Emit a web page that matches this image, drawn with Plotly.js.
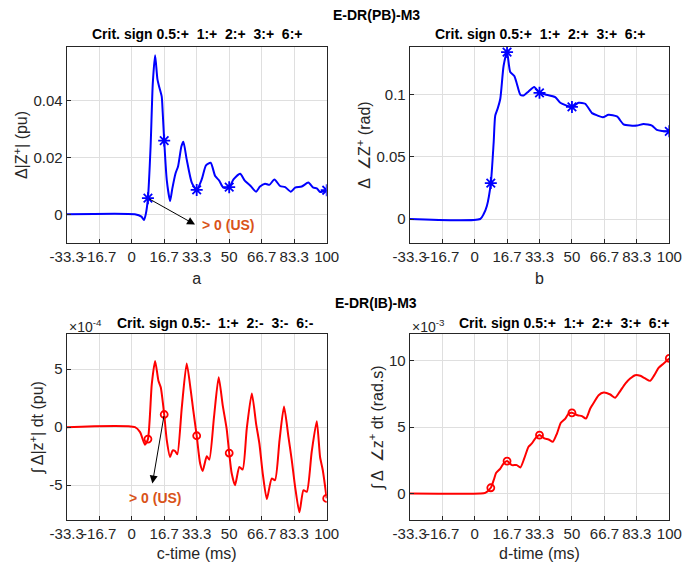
<!DOCTYPE html>
<html>
<head>
<meta charset="utf-8">
<script src="https://cdn.plot.ly/plotly-3.0.1.min.js"></script>
<style>html,body{margin:0;padding:0;background:#fff;}#chart{width:697px;height:562px;}</style>
</head>
<body>
<div id="chart"></div>
<script>
// ---- x tick labels (time, ms) ----
const xTickVals = [-33.33, -16.67, 0, 16.67, 33.33, 50, 66.67, 83.33, 100];
const xTickText = ["-33.3", "-16.7", "0", "16.7", "33.3", "50", "66.7", "83.3", "100"];

// ---- panel a: Δ|Z+| (pu) ----
const xA = [-33.33, 1.6, 5.0, 6.3, 7.2, 8.33, 9.7, 10.8, 12.0, 13.2, 14.2, 15.4, 15.9, 16.67, 18.0, 19.7, 20.8, 22.5, 23.8, 25.5, 26.5, 28.2, 30.8, 33.33, 35.9, 38.1, 40.5, 42.8, 44.8, 47.0, 50, 52.2, 55.6, 58.1, 61.0, 63.8, 65.8, 68.4, 70.6, 73.2, 76.1, 78.7, 81.6, 83.8, 87.2, 90.6, 93.2, 94.9, 96.6, 100];
const yA = [0, 0, -0.0008, -0.002, 0.0, 0.0057, 0.024, 0.046, 0.0561, 0.0476, 0.0447, 0.0415, 0.036, 0.026, 0.012, 0.0047, 0.009, 0.0145, 0.017, 0.024, 0.0256, 0.0194, 0.0112, 0.0086, 0.0123, 0.0173, 0.0182, 0.0135, 0.012, 0.0094, 0.0096, 0.0123, 0.0143, 0.0118, 0.010, 0.008, 0.0098, 0.0108, 0.0104, 0.0123, 0.010, 0.0096, 0.008, 0.0094, 0.0098, 0.0112, 0.0094, 0.0092, 0.0079, 0.0085];
const mxA = [8.33, 16.67, 33.33, 50, 100];
const myA = [0.0057, 0.026, 0.0086, 0.0096, 0.0085];

// ---- panel b: Δ∠Z+ (rad) ----
const xB = [-33.33, 2.9, 4.6, 6.3, 8.33, 9.8, 10.6, 11.8, 13.2, 14.9, 16.67, 18.3, 20.4, 21.7, 23.5, 25.2, 27.7, 30.6, 33.33, 36.3, 41.4, 44.0, 50, 53.4, 56.8, 60.3, 63.2, 65.9, 68.8, 73.1, 76.5, 80.0, 83.4, 86.8, 91.1, 93.6, 96.2, 100];
const yB = [0, 0, 0.0038, 0.0105, 0.0288, 0.0616, 0.083, 0.0884, 0.0965, 0.123, 0.134, 0.118, 0.1148, 0.1086, 0.0997, 0.0992, 0.1024, 0.106, 0.1013, 0.100, 0.0978, 0.0933, 0.090, 0.0933, 0.0925, 0.085, 0.083, 0.0817, 0.0836, 0.0823, 0.076, 0.075, 0.075, 0.0763, 0.075, 0.0715, 0.0707, 0.0704];
const mxB = [8.33, 16.67, 33.33, 50, 100];
const myB = [0.0288, 0.134, 0.1013, 0.090, 0.0704];

// ---- panel c: ∫Δ|z+| dt (pu), in units of 1e-4 ----
const xC = [-33.33, 1.7, 4.3, 6.8, 8.33, 10.3, 12.0, 13.7, 14.9, 16.67, 18.0, 19.7, 21.0, 22.2, 23.4, 25.7, 28.2, 30.3, 31.6, 33.33, 35.1, 36.4, 38.5, 39.8, 42.2, 44.6, 46.7, 48.7, 50, 51.3, 53.0, 55.2, 56.9, 59.0, 61.6, 63.8, 65.5, 67.2, 69.3, 71.8, 73.5, 75.8, 78.1, 80.4, 82.1, 83.8, 86.0, 88.1, 89.8, 92.3, 94.9, 96.6, 98.0, 100];
const yC = [0, 0, -0.43, -1.51, -1.03, 3.7, 5.71, 4.0, 3.43, 1.09, -1.14, -2.57, -2.0, -2.06, -2.34, 1.71, 5.49, 3.14, 1.43, -0.74, -3.14, -3.77, -2.51, -2.8, 0.86, 4.29, 1.86, -0.14, -2.23, -4.0, -5.0, -3.43, -3.66, -0.14, 2.91, 0.29, -1.43, -4.0, -6.2, -4.43, -4.57, -1.14, 1.77, -0.86, -2.86, -5.14, -7.34, -5.43, -5.57, -2.14, 0.51, -2.57, -3.71, -6.14];
const mxC = [8.33, 16.67, 33.33, 50, 100];
const myC = [-1.03, 1.09, -0.74, -2.23, -6.14];

// ---- panel d: ∫Δ∠z+ dt (rad.s), in units of 1e-3 ----
const xD = [-33.33, 2.9, 5.5, 8.33, 9.8, 11.1, 13.2, 14.9, 16.67, 19.2, 21.7, 23.5, 25.5, 27.7, 29.4, 31.2, 33.33, 35.8, 38.0, 40.2, 42.3, 44.3, 46.6, 48.3, 50, 52.9, 55.1, 57.2, 59.4, 61.5, 63.7, 66.3, 69.7, 72.2, 74.5, 77.4, 79.9, 82.5, 85.1, 87.6, 90.2, 92.3, 94.5, 97.1, 100];
const yD = [0, 0, 0.05, 0.43, 1.0, 1.56, 1.88, 2.26, 2.44, 2.14, 2.14, 1.96, 2.64, 3.52, 3.77, 4.15, 4.4, 4.15, 4.07, 3.9, 4.52, 5.33, 5.65, 6.03, 6.08, 5.9, 5.83, 5.65, 6.41, 6.91, 7.41, 7.61, 7.46, 7.21, 7.66, 8.29, 8.67, 8.92, 8.87, 8.67, 8.49, 8.92, 9.47, 9.8, 10.18];
const mxD = [8.33, 16.67, 33.33, 50, 100];
const myD = [0.43, 2.44, 4.4, 6.08, 10.18];

// ---- texts ----
const supTitles = ["E-DR(PB)-M3", "E-DR(IB)-M3"];
const critTitles = ["Crit. sign 0.5:+  1:+  2:+  3:+  6:+", "Crit. sign 0.5:+  1:+  2:+  3:+  6:+",
                    "Crit. sign 0.5:-  1:+  2:-  3:-  6:-", "Crit. sign 0.5:+  1:+  2:+  3:+  6:+"];
const xTitles = ["a", "b", "c-time (ms)", "d-time (ms)"];
const yTitles = ["Δ|Z<sup>+</sup>| (pu)", "Δ  ∠Z<sup>+</sup> (rad)", "∫ Δ|z<sup>+</sup>| dt (pu)", "∫ Δ  ∠z<sup>+</sup> dt (rad.s)"];
const expLabels = ["×10<sup>-4</sup>", "×10<sup>-3</sup>"];
const usLabel = "> 0 (US)";

const FONT = "Liberation Sans, Arial, Helvetica, sans-serif";
const BLUE = "#0000ff", RED = "#ff0000", ORANGE = "#d95319", AX = "#262626", GRID = "#dfdfdf";

function line(x, y, c, xa, ya) {
  return {x: x, y: y, xaxis: xa, yaxis: ya, mode: "lines", type: "scatter",
          line: {color: c, width: 2, shape: "spline", smoothing: 0.6}, hoverinfo: "skip", showlegend: false};
}
function marks(x, y, c, sym, sz, xa, ya) {
  return {x: x, y: y, xaxis: xa, yaxis: ya, mode: "markers", type: "scatter",
          marker: {symbol: sym, size: sz, color: c, line: {color: c, width: 1.8}}, hoverinfo: "skip", showlegend: false};
}

const data = [
  line(xA, yA, BLUE, "x", "y"), marks(mxA, myA, BLUE, "asterisk-open", 10, "x", "y"),
  line(xB, yB, BLUE, "x2", "y2"), marks(mxB, myB, BLUE, "asterisk-open", 10, "x2", "y2"),
  line(xC, yC, RED, "x3", "y3"), marks(mxC, myC, RED, "circle-open", 7, "x3", "y3"),
  line(xD, yD, RED, "x4", "y4"), marks(mxD, myD, RED, "circle-open", 7, "x4", "y4")
];

const W = 697, H = 562;
const colL = [[66.7 / W, 326.7 / W], [409.7 / W, 669.3 / W]];
const rowT = [[1 - 243.3 / H, 1 - 46.7 / H], [1 - 520 / H, 1 - 334.3 / H]];

function xax(dom, anchor, title) {
  return {domain: dom, anchor: anchor, range: [-33.33, 100], tickmode: "array", tickvals: xTickVals, ticktext: xTickText,
          tickangle: 0, showgrid: true, gridcolor: GRID, gridwidth: 1, zeroline: false, showline: true, linecolor: AX, linewidth: 1,
          mirror: true, ticks: "inside", ticklen: 4, tickcolor: AX,
          tickfont: {family: FONT, size: 15, color: AX},
          title: {text: title, font: {family: FONT, size: 16, color: AX}, standoff: 8}};
}
function yax(dom, anchor, range, tv, tt, title) {
  return {domain: dom, anchor: anchor, range: range, tickmode: "array", tickvals: tv, ticktext: tt,
          tickangle: 0, showgrid: true, gridcolor: GRID, gridwidth: 1, zeroline: false, showline: true, linecolor: AX, linewidth: 1,
          mirror: true, ticks: "inside", ticklen: 4, tickcolor: AX,
          tickfont: {family: FONT, size: 15, color: AX},
          title: {text: title, font: {family: FONT, size: 16, color: AX}, standoff: 1}};
}

function ann(text, xref, x, yPx, size, color, weight, xanchor) {
  return {text: text, xref: xref, yref: "paper", x: x, y: 1 - yPx / H, xanchor: xanchor || "center", yanchor: "middle",
          showarrow: false, font: {family: FONT, size: size, color: color, weight: weight}};
}

const layout = {
  width: W, height: H, margin: {l: 0, r: 0, t: 0, b: 0}, paper_bgcolor: "#fff", plot_bgcolor: "#fff",
  showlegend: false, font: {family: FONT, color: AX},
  xaxis: xax(colL[0], "y", xTitles[0]),
  yaxis: yax(rowT[0], "x", [-0.0102, 0.0591], [0, 0.02, 0.04], ["0", "0.02", "0.04"], yTitles[0]),
  xaxis2: xax(colL[1], "y2", xTitles[1]),
  yaxis2: yax(rowT[0], "x2", [-0.0195, 0.1383], [0, 0.05, 0.1], ["0", "0.05", "0.1"], yTitles[1]),
  xaxis3: xax(colL[0], "y3", xTitles[2]),
  yaxis3: yax(rowT[1], "x3", [-8, 8], [-5, 0, 5], ["-5", "0", "5"], yTitles[2]),
  xaxis4: xax(colL[1], "y4", xTitles[3]),
  yaxis4: yax(rowT[1], "x4", [-2, 12], [0, 5, 10], ["0", "5", "10"], yTitles[3]),
  annotations: [
    ann(supTitles[0], "paper", 376 / W, 15, 14, "#000", "bold"),
    ann(supTitles[1], "paper", 376 / W, 303, 14, "#000", "bold"),
    ann(critTitles[0], "x domain", 0.5, 34, 14, "#000", "bold"),
    ann(critTitles[1], "x2 domain", 0.5, 34, 14, "#000", "bold"),
    ann(critTitles[2], "x3 domain", 0.572, 323, 14, "#000", "bold"),
    ann(critTitles[3], "x4 domain", 0.595, 323, 14, "#000", "bold"),
    ann(expLabels[0], "x3 domain", 0, 326, 14, AX, "normal", "left"),
    ann(expLabels[1], "x4 domain", 0, 326, 14, AX, "normal", "left"),
    // arrows
    {xref: "x", yref: "y", x: 32.5, y: -0.0036, axref: "x", ayref: "y", ax: mxA[0], ay: myA[0], text: "", showarrow: true, arrowhead: 2, arrowsize: 1.6, arrowwidth: 1, arrowcolor: "#000"},
    {xref: "x", yref: "y", x: 35, y: -0.0036, text: usLabel, xanchor: "left", yanchor: "middle", showarrow: false, font: {family: FONT, size: 14, color: ORANGE, weight: "bold"}},
    {xref: "x3", yref: "y3", x: 10.6, y: -4.86, axref: "x3", ayref: "y3", ax: mxC[1], ay: myC[1], text: "", showarrow: true, arrowhead: 2, arrowsize: 1.6, arrowwidth: 1, arrowcolor: "#000"},
    {xref: "x3", yref: "y3", x: 12.4, y: -6.14, text: usLabel, xanchor: "center", yanchor: "middle", showarrow: false, font: {family: FONT, size: 14, color: ORANGE, weight: "bold"}}
  ]
};

Plotly.newPlot("chart", data, layout, {displayModeBar: false});
</script>
</body>
</html>
